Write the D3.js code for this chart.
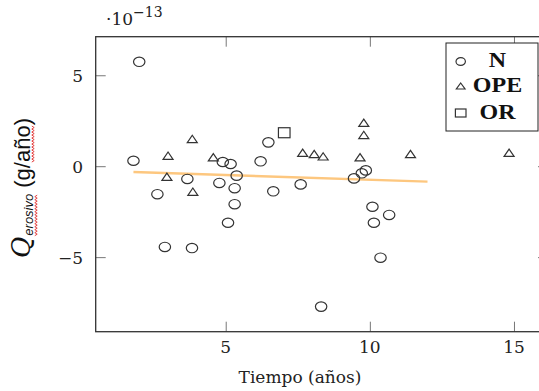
<!DOCTYPE html>
<html lang="es">

<head>
    <meta charset="UTF-8">
    <script src="https://cdn.jsdelivr.net/npm/d3@7"></script>
    <title>Q erosivo vs tiempo</title>
</head>
<style>
    body {
        margin: 0;
        background: #fff;
    }

    .tick-label {
        font-family: "DejaVu Serif", serif;
        font-size: 17px;
        fill: #222;
    }

    .mark {
        fill: none;
        stroke: #333;
        stroke-width: 1.2;
    }

    .legend-text {
        font-family: "Liberation Serif", serif;
        font-weight: bold;
        font-size: 20px;
        fill: #111;
    }
</style>

<body>

</body>
<script>
    // datos (valores en unidades de 1e-13 g/año)
    var nX = [1.80, 2.00, 2.63, 2.89, 3.67, 3.83, 4.78, 4.90, 5.17, 5.31, 5.31, 5.08, 5.38,
        6.21, 6.48, 6.65, 7.60, 8.31, 9.45, 9.72, 9.86, 10.09, 10.14, 10.67, 10.37];
    var nY = [0.30, 5.74, -1.54, -4.44, -0.70, -4.50, -0.92, 0.23, 0.12, -1.21, -2.09, -3.11, -0.52,
        0.27, 1.31, -1.38, -1.00, -7.72, -0.67, -0.39, -0.23, -2.23, -3.11, -2.68, -5.03];
    var opeX = [3.00, 3.84, 4.57, 2.96, 3.86, 7.67, 8.07, 8.38, 9.66, 9.79, 9.79, 11.41, 14.83];
    var opeY = [0.58, 1.50, 0.49, -0.58, -1.40, 0.74, 0.67, 0.54, 0.49, 2.39, 1.72, 0.67, 0.74];
    var orX = [7.03];
    var orY = [1.84];
    var trendX = [1.80, 12.0];
    var trendY = [-0.32, -0.85];
    var xTicks = [5, 10, 15];
    var yTicks = [5, 0, -5];
    var legendNames = ["N", "OPE", "OR"];

    var width = 539, height = 391;
    var pL = 95.7, pR = 548, pT = 36.7, pB = 331.7;

    var svg = d3.select("body").append("svg").attr("width", width).attr("height", height);

    var x = d3.scaleLinear().domain([0.49, 16.18]).range([pL, pR]);
    var y = d3.scaleLinear().domain([-9.1, 7.12]).range([pB, pT]);

    // ejes con ticks hacia dentro en los cuatro lados
    var tickLen = 10;
    var axisStyle = function(g) {
        g.select(".domain").remove();
        g.selectAll(".tick line").attr("stroke", "#777").attr("stroke-width", 1);
        g.selectAll(".tick text").remove();
    };
    svg.append("g").attr("transform", `translate(0,${pB})`)
        .call(d3.axisBottom(x).tickValues(xTicks).tickSizeInner(-tickLen).tickSizeOuter(0)).call(axisStyle);
    svg.append("g").attr("transform", `translate(0,${pT})`)
        .call(d3.axisTop(x).tickValues(xTicks).tickSizeInner(-tickLen).tickSizeOuter(0)).call(axisStyle);
    svg.append("g").attr("transform", `translate(${pL},0)`)
        .call(d3.axisLeft(y).tickValues(yTicks).tickSizeInner(-tickLen).tickSizeOuter(0)).call(axisStyle);
    svg.append("g").attr("transform", `translate(${pR},0)`)
        .call(d3.axisRight(y).tickValues(yTicks).tickSizeInner(-tickLen).tickSizeOuter(0)).call(axisStyle);

    svg.append("rect")
        .attr("x", pL).attr("y", pT)
        .attr("width", pR - pL).attr("height", pB - pT)
        .attr("fill", "none").attr("stroke", "#333").attr("stroke-width", 1.3);

    var fmt = function(d) { return d < 0 ? "\u2212" + Math.abs(d) : "" + d; };

    svg.selectAll(".xl").data(xTicks).enter().append("text")
        .attr("class", "tick-label")
        .attr("x", function(d) { return x(d); })
        .attr("y", 353)
        .attr("text-anchor", "middle")
        .text(fmt);

    svg.selectAll(".yl").data(yTicks).enter().append("text")
        .attr("class", "tick-label")
        .attr("x", 83)
        .attr("y", function(d) { return y(d) + 6.5; })
        .attr("text-anchor", "end")
        .text(fmt);

    // factor de escala arriba a la izquierda
    var mult = svg.append("text").attr("class", "tick-label").attr("x", 106).attr("y", 25);
    mult.append("tspan").text("\u00b710");
    mult.append("tspan").attr("dy", -8).attr("font-size", 14).text("\u221213");

    svg.append("text")
        .attr("class", "tick-label")
        .attr("x", 300).attr("y", 383)
        .attr("text-anchor", "middle")
        .attr("font-size", 18)
        .text("Tiempo (años)");

    // etiqueta del eje y (rotada)
    var ylab = svg.append("g").attr("transform", "translate(30,258) rotate(-90)");
    var q = ylab.append("text").attr("x", 0).attr("y", 0)
        .attr("font-family", "'DejaVu Serif', serif").attr("font-style", "italic")
        .attr("font-size", 26).attr("fill", "#111").text("Q");
    var qw = q.node().getComputedTextLength();
    var sub = ylab.append("text").attr("x", qw + 1).attr("y", 3)
        .attr("font-family", "'Liberation Sans', sans-serif").attr("font-style", "italic")
        .attr("font-size", 13).attr("fill", "#111").text("erosivo");
    var sw = sub.node().getComputedTextLength();
    var unitStart = qw + sw + 7;
    var u1 = ylab.append("text").attr("x", unitStart).attr("y", 0)
        .attr("font-family", "'Liberation Sans', sans-serif")
        .attr("font-size", 22).attr("fill", "#111").text("(g/");
    var u1w = u1.node().getComputedTextLength();
    var u2 = ylab.append("text").attr("x", unitStart + u1w).attr("y", 0)
        .attr("font-family", "'Liberation Sans', sans-serif")
        .attr("font-size", 22).attr("fill", "#111").text("año");
    var u2w = u2.node().getComputedTextLength();
    ylab.append("text").attr("x", unitStart + u1w + u2w).attr("y", 0)
        .attr("font-family", "'Liberation Sans', sans-serif")
        .attr("font-size", 22).attr("fill", "#111").text(")");

    // subrayado ondulado rojo (corrector ortografico)
    function wavy(x0, x1, yy) {
        var pts = [];
        for (var t = x0, k = 0; t <= x1; t += 1.5, k++) pts.push([t, yy + (k % 2 ? 1.2 : -1.2)]);
        return d3.line()(pts);
    }
    ylab.append("path").attr("d", wavy(qw + 1, qw + 1 + sw, 6))
        .attr("fill", "none").attr("stroke", "#e03030").attr("stroke-width", 0.9);
    ylab.append("path").attr("d", wavy(unitStart + u1w, unitStart + u1w + u2w, 3))
        .attr("fill", "none").attr("stroke", "#e03030").attr("stroke-width", 0.9);

    // linea de tendencia
    svg.append("path")
        .datum(d3.zip(trendX, trendY))
        .attr("d", d3.line().x(function(d) { return x(d[0]); }).y(function(d) { return y(d[1]); }))
        .attr("fill", "none").attr("stroke", "#fdc77f").attr("stroke-width", 2.4);

    var tri = function(w, h) {
        return `M0,${-h / 2}L${w / 2},${h / 2}L${-w / 2},${h / 2}Z`;
    };

    var plot = svg.append("g");
    plot.selectAll(".n").data(d3.zip(nX, nY)).enter().append("ellipse")
        .attr("class", "mark")
        .attr("cx", function(d) { return x(d[0]); })
        .attr("cy", function(d) { return y(d[1]); })
        .attr("rx", 5.7).attr("ry", 4.7);

    plot.selectAll(".ope").data(d3.zip(opeX, opeY)).enter().append("path")
        .attr("class", "mark")
        .attr("transform", function(d) { return `translate(${x(d[0])},${y(d[1])})`; })
        .attr("d", tri(10, 7.3));

    plot.selectAll(".or").data(d3.zip(orX, orY)).enter().append("rect")
        .attr("class", "mark")
        .attr("x", function(d) { return x(d[0]) - 5.8; })
        .attr("y", function(d) { return y(d[1]) - 5; })
        .attr("width", 11.6).attr("height", 10);

    // leyenda
    var lg = svg.append("g").attr("transform", "translate(446,43)");
    lg.append("rect").attr("width", 92).attr("height", 88)
        .attr("fill", "#fff").attr("stroke", "#222").attr("stroke-width", 1);
    var rowY = [18.5, 43, 70];
    legendNames.forEach(function(name, i) {
        var row = lg.append("g").attr("transform", `translate(14.7,${rowY[i]})`);
        if (i === 0) row.append("ellipse").attr("class", "mark").attr("rx", 4.7).attr("ry", 3.8);
        if (i === 1) row.append("path").attr("class", "mark").attr("d", tri(8.7, 6));
        if (i === 2) row.append("rect").attr("class", "mark").attr("x", -5.3).attr("y", -4).attr("width", 10.6).attr("height", 8);
        lg.append("text").attr("class", "legend-text")
            .attr("transform", `translate(51.5,${rowY[i] + 5.5}) scale(1.2,1)`)
            .attr("text-anchor", "middle")
            .text(name);
    });
</script>

</html>
